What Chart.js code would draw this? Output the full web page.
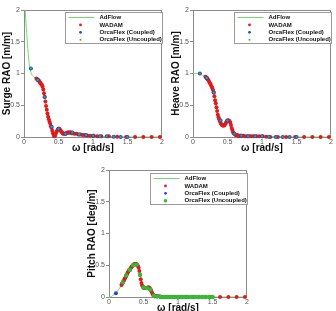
<!DOCTYPE html>
<html>
<head>
<meta charset="utf-8">
<script src="https://cdn.jsdelivr.net/npm/chart.js@4.4.1/dist/chart.umd.min.js"></script>
<style>
  html, body { margin: 0; padding: 0; background: #fff; overflow: hidden; }
  body { width: 336px; height: 311px; position: relative; }
  canvas { position: absolute; }
</style>
</head>
<body>
<canvas id="surgeChart" width="168" height="160" style="left:0;top:0"></canvas>
<canvas id="heaveChart" width="168" height="160" style="left:168px;top:0"></canvas>
<canvas id="pitchChart" width="168" height="160" style="left:85px;top:160px"></canvas>
<script>
// DATA (frequency in rad/s)
const seriesNames = ['AdFlow', 'WADAM', 'OrcaFlex (Coupled)', 'OrcaFlex (Uncoupled)'];

const adflowW = [0.0, 0.01, 0.02, 0.03, 0.04, 0.05, 0.06, 0.07, 0.08, 0.09, 0.10, 0.12, 0.14, 0.16, 0.18,
  0.20, 0.25, 0.30, 0.35, 0.40, 0.45, 0.50, 0.55, 0.60, 0.70, 0.80, 1.0, 1.5, 2.0];
const adflowSurge = [3.2, 2.3, 1.95, 1.78, 1.63, 1.47, 1.32, 1.2, 1.12, 1.06, 1.02, 0.97, 0.95, 0.93, 0.92,
  0.90, 0.83, 0.63, 0.32, 0.14, 0.02, 0.13, 0.07, 0.05, 0.06, 0.04, 0.02, 0.0, 0.0];
const adflowHeave = [1.0, 1.0, 1.0, 1.0, 1.0, 1.0, 1.0, 1.0, 0.99, 0.99, 0.99, 0.98, 0.97, 0.96, 0.95,
  0.93, 0.84, 0.70, 0.41, 0.22, 0.18, 0.26, 0.19, 0.05, 0.02, 0.01, 0.01, 0.0, 0.0];
const adflowPitch = [0.0, 0.0, 0.0, 0.005, 0.01, 0.02, 0.025, 0.035, 0.045, 0.05, 0.06, 0.09, 0.12, 0.15, 0.19,
  0.23, 0.34, 0.43, 0.50, 0.51, 0.35, 0.15, 0.14, 0.12, 0.01, 0.0, 0.0, 0.0, 0.0];

const wadamW = [0.18, 0.19, 0.20, 0.21, 0.22, 0.23, 0.24, 0.25, 0.26, 0.27, 0.28, 0.29, 0.30, 0.31, 0.32,
  0.33, 0.34, 0.35, 0.36, 0.37, 0.38, 0.39, 0.40, 0.41, 0.42, 0.43, 0.44, 0.45, 0.46, 0.47, 0.48, 0.49,
  0.50, 0.51, 0.52, 0.53, 0.54, 0.55, 0.56, 0.57, 0.58, 0.59, 0.60, 0.61, 0.62, 0.63, 0.64, 0.65, 0.66,
  0.67, 0.68, 0.69, 0.70, 0.73, 0.76, 0.79, 0.82, 0.85, 0.88, 0.92, 0.96, 1.01, 1.06, 1.12, 1.23, 1.35,
  1.48, 1.61, 1.73, 1.85, 1.97];
const wadamSurge = [0.92, 0.91, 0.90, 0.89, 0.88, 0.86, 0.85, 0.83, 0.82, 0.79, 0.75, 0.69, 0.63, 0.56, 0.49,
  0.43, 0.37, 0.32, 0.28, 0.24, 0.21, 0.17, 0.14, 0.10, 0.06, 0.03, 0.01, 0.02, 0.05, 0.08, 0.10, 0.12,
  0.13, 0.13, 0.12, 0.10, 0.09, 0.07, 0.06, 0.05, 0.05, 0.05, 0.05, 0.06, 0.06, 0.07, 0.07, 0.07, 0.07,
  0.07, 0.07, 0.06, 0.06, 0.05, 0.05, 0.04, 0.04, 0.03, 0.03, 0.02, 0.02, 0.02, 0.01, 0.01, 0.01, 0.005,
  0, 0, 0, 0, 0];
const wadamHeave = [0.95, 0.94, 0.93, 0.91, 0.90, 0.88, 0.86, 0.84, 0.82, 0.79, 0.77, 0.74, 0.70, 0.64, 0.58,
  0.53, 0.47, 0.41, 0.35, 0.31, 0.28, 0.25, 0.22, 0.20, 0.19, 0.18, 0.18, 0.18, 0.19, 0.21, 0.23, 0.25,
  0.26, 0.26, 0.26, 0.25, 0.23, 0.19, 0.14, 0.11, 0.08, 0.06, 0.05, 0.04, 0.03, 0.03, 0.03, 0.02, 0.02,
  0.02, 0.02, 0.02, 0.02, 0.02, 0.01, 0.01, 0.01, 0.01, 0.01, 0.01, 0.01, 0.01, 0.005, 0, 0, 0,
  0, 0, 0, 0, 0];
const wadamPitch = [0.19, 0.21, 0.23, 0.25, 0.27, 0.29, 0.31, 0.34, 0.36, 0.38, 0.40, 0.42, 0.43, 0.45, 0.46,
  0.48, 0.49, 0.50, 0.51, 0.52, 0.52, 0.52, 0.51, 0.50, 0.49, 0.46, 0.41, 0.35, 0.28, 0.22, 0.18, 0.16,
  0.15, 0.14, 0.14, 0.14, 0.14, 0.14, 0.15, 0.15, 0.15, 0.14, 0.12, 0.10, 0.08, 0.05, 0.03, 0.02, 0.01,
  0.01, 0.01, 0.01, 0.01, 0.01, 0.005, 0, 0, 0, 0, 0, 0, 0, 0, 0, 0, 0,
  0, 0, 0, 0, 0];

const orcaW = [0.1, 0.2, 0.3, 0.4, 0.5, 0.6, 0.7, 0.8, 0.9, 1.0, 1.1, 1.2, 1.3, 1.4, 1.5];
const coupledSurge = [1.08, 0.90, 0.63, 0.16, 0.13, 0.05, 0.07, 0.04, 0.03, 0.02, 0.01, 0.01, 0.005, 0, 0];
const coupledHeave = [1.0, 0.93, 0.70, 0.26, 0.26, 0.05, 0.02, 0.01, 0.01, 0.01, 0.005, 0, 0, 0, 0];
const coupledPitch = [0.06, 0.23, 0.43, 0.51, 0.15, 0.12, 0.01, 0, 0, 0, 0, 0, 0, 0, 0];
const uncoupledSurge = [1.08, 0.90, 0.63, 0.16, 0.13, 0.05, 0.07, 0.04, 0.03, 0.02, 0.01, 0.01, 0.005, 0, 0];
const uncoupledHeave = [1.0, 0.93, 0.70, 0.26, 0.26, 0.05, 0.02, 0.01, 0.01, 0.01, 0.005, 0, 0, 0, 0];

const pitchUncW = [0.2, 0.25, 0.3, 0.35, 0.4, 0.45, 0.5, 0.55, 0.6, 0.65, 0.7, 0.75, 0.8, 0.85, 0.9,
  0.95, 1.0, 1.05, 1.1, 1.15, 1.2, 1.25, 1.3, 1.35, 1.4, 1.45, 1.5];
const uncoupledPitch = [0.23, 0.34, 0.43, 0.50, 0.51, 0.35, 0.15, 0.14, 0.12, 0.02, 0.01, 0, 0, 0, 0,
  0, 0, 0, 0, 0, 0, 0, 0, 0, 0, 0, 0];

const axisTicks = [0, 0.5, 1, 1.5, 2];

// STYLE
const FONT = 'Arial, "Liberation Sans", sans-serif';
const RED = '#dd1c1c';
const BLUE = '#2f3fdc';
const GREEN_LINE = '#6ade6a';
const GREEN_DOT = '#33bb33';

function pts(xs, ys) {
  return xs.map((x, i) => ({ x: x, y: ys[i] }));
}

// box round the plot area, drawn under the markers
const frame = {
  id: 'frame',
  beforeDatasetsDraw(chart) {
    const a = chart.chartArea, ctx = chart.ctx;
    ctx.save();
    ctx.strokeStyle = '#8a8a8a';
    ctx.lineWidth = 1;
    ctx.strokeRect(Math.round(a.left) + 0.5, Math.round(a.top) + 0.5,
      Math.round(a.right - a.left) - 1, Math.round(a.bottom - a.top));
    ctx.restore();
  }
};

// legend box in the upper right of the plot
const boxLegend = {
  id: 'boxLegend',
  afterDraw(chart, args, opts) {
    const ctx = chart.ctx, a = chart.chartArea;
    const w = 97, h = 31;
    const x = Math.round(a.right) - w + 0.5, y = Math.round(a.top) + opts.dy + 0.5;
    ctx.save();
    ctx.fillStyle = '#fff';
    ctx.fillRect(x, y, w, h);
    ctx.strokeStyle = '#9a9a9a';
    ctx.lineWidth = 1;
    ctx.strokeRect(x, y, w, h);
    ctx.font = 'bold 6px ' + FONT;
    ctx.textBaseline = 'middle';
    chart.data.datasets.forEach((ds, i) => {
      const cy = y + 5 + i * 7.4;
      if (ds.showLine) {
        ctx.strokeStyle = ds.borderColor;
        ctx.lineWidth = 1;
        ctx.beginPath();
        ctx.moveTo(x + 3, cy);
        ctx.lineTo(x + 29, cy);
        ctx.stroke();
      } else {
        ctx.fillStyle = ds.backgroundColor;
        ctx.beginPath();
        ctx.arc(x + 15, cy, ds.legendRadius, 0, Math.PI * 2);
        ctx.fill();
      }
      ctx.fillStyle = '#111';
      ctx.fillText(ds.label, x + 34, cy);
    });
    ctx.restore();
  }
};

function makeChart(id, yTitle, adflow, wadam, coupled, uncW, uncoupled, uncRadius, pad, legendDy) {
  const ctx = document.getElementById(id).getContext('2d');
  return new Chart(ctx, {
    type: 'scatter',
    data: {
      datasets: [
        {
          label: seriesNames[0],
          data: pts(adflowW, adflow),
          showLine: true,
          borderColor: GREEN_LINE,
          borderWidth: 1,
          pointRadius: 0,
          tension: 0.3,
          order: 4
        },
        {
          label: seriesNames[1],
          data: pts(wadamW, wadam),
          backgroundColor: RED,
          borderWidth: 0,
          pointRadius: 2,
          legendRadius: 1.4,
          clip: 4,
          order: 3
        },
        {
          label: seriesNames[2],
          data: pts(orcaW, coupled),
          backgroundColor: BLUE,
          borderWidth: 0,
          pointRadius: 2,
          legendRadius: 1.4,
          clip: 4,
          order: 2
        },
        {
          label: seriesNames[3],
          data: pts(uncW, uncoupled),
          backgroundColor: GREEN_DOT,
          borderWidth: 0,
          pointRadius: uncRadius,
          legendRadius: uncRadius > 1.5 ? 1.8 : 1,
          clip: 4,
          order: 1
        }
      ]
    },
    options: {
      responsive: false,
      animation: false,
      events: [],
      layout: { padding: pad },
      plugins: {
        legend: { display: false },
        tooltip: { enabled: false },
        boxLegend: { dy: legendDy }
      },
      scales: {
        x: {
          type: 'linear',
          min: 0,
          max: 2,
          afterBuildTicks: s => { s.ticks = axisTicks.map(v => ({ value: v })); },
          afterFit: s => { s.height = 17; },
          ticks: { font: { family: FONT, size: 7 }, color: '#555', padding: 1, maxRotation: 0,
            callback: v => String(v) },
          grid: { drawOnChartArea: false, drawTicks: false, color: '#8a8a8a' },
          border: { display: false },
          title: {
            display: true,
            text: 'ω [rad/s]',
            font: { family: FONT, size: 10, weight: 'bold' },
            color: '#111',
            padding: 0
          }
        },
        y: {
          type: 'linear',
          min: 0,
          max: 2,
          afterBuildTicks: s => { s.ticks = axisTicks.map(v => ({ value: v })); },
          afterFit: s => { s.width = 24; },
          ticks: { font: { family: FONT, size: 7 }, color: '#555', padding: 1,
            callback: v => String(v) },
          grid: { drawOnChartArea: false, drawTicks: true, tickLength: 3, color: '#8a8a8a' },
          border: { display: false },
          title: {
            display: true,
            text: yTitle,
            font: { family: FONT, size: 10, weight: 'bold' },
            color: '#111',
            padding: { top: 1, bottom: 0 }
          }
        }
      }
    },
    plugins: [frame, boxLegend]
  });
}

makeChart('surgeChart', 'Surge RAO [m/m]', adflowSurge, wadamSurge, coupledSurge, orcaW, uncoupledSurge, 1.1,
  { top: 10, right: 6, bottom: 6, left: 0 }, 2);
makeChart('heaveChart', 'Heave RAO [m/m]', adflowHeave, wadamHeave, coupledHeave, orcaW, uncoupledHeave, 1.1,
  { top: 10, right: 5, bottom: 6, left: 1 }, 2);
makeChart('pitchChart', 'Pitch RAO [deg/m]', adflowPitch, wadamPitch, coupledPitch, pitchUncW, uncoupledPitch, 2.2,
  { top: 10, right: 6, bottom: 6, left: 0 }, 3);
</script>
</body>
</html>
